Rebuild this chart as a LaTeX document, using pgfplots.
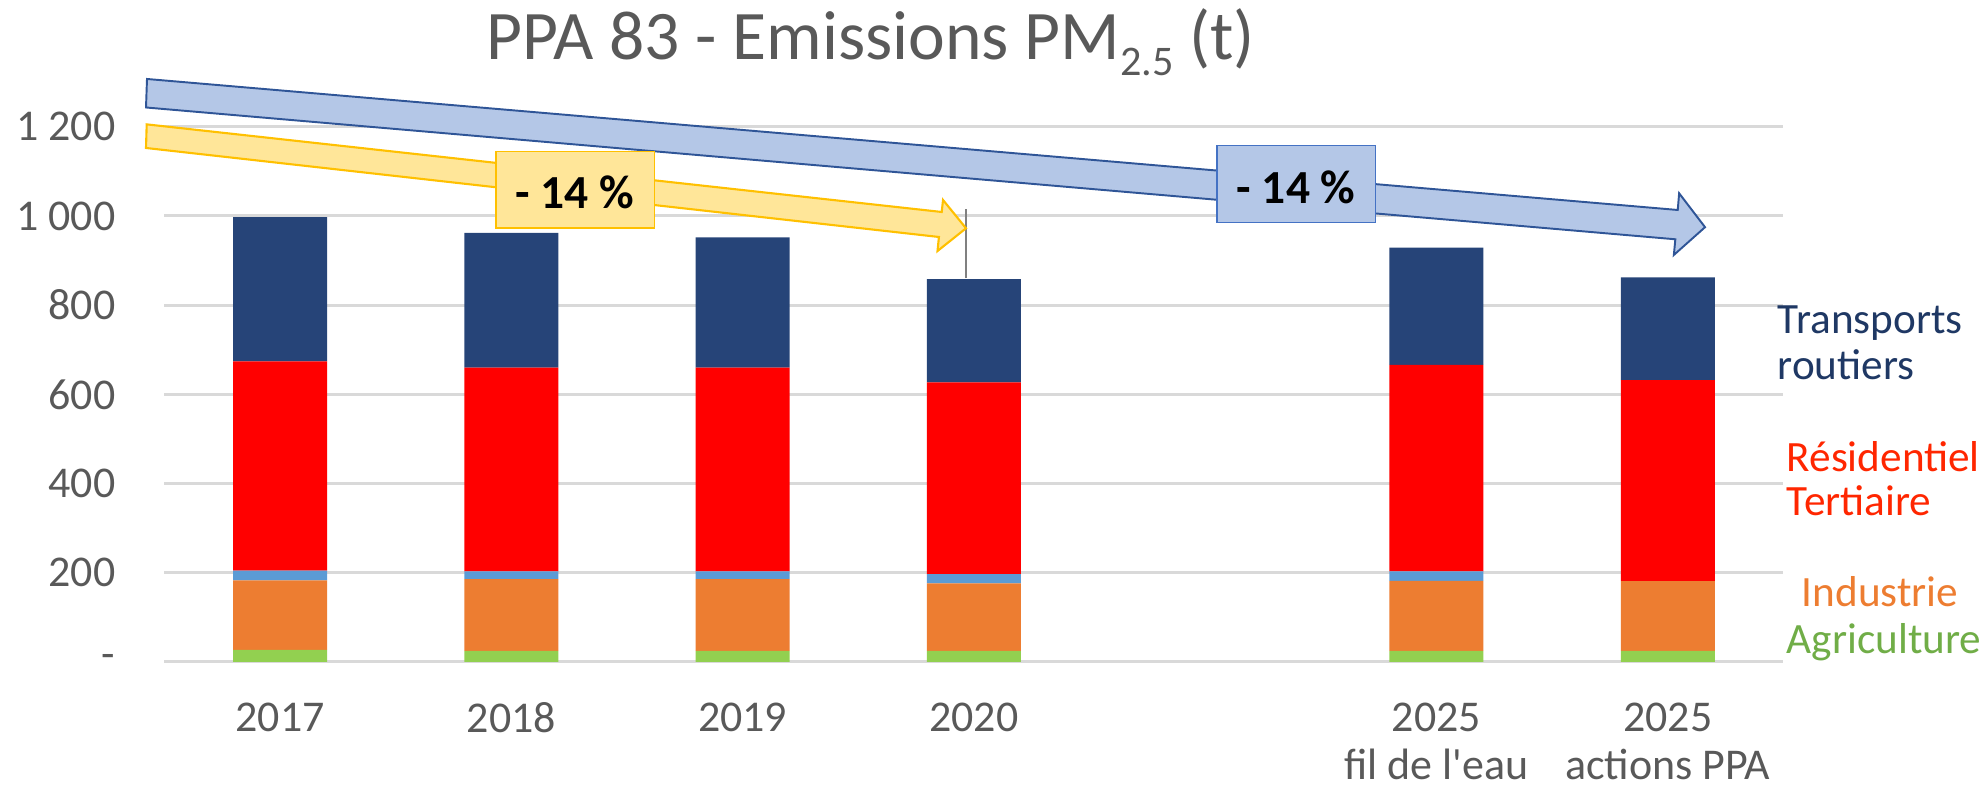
\documentclass[border=0pt]{standalone}
\usepackage{fontspec}
\setmainfont{Carlito}
\usepackage{pgfplots}
\pgfplotsset{compat=1.18}
\definecolor{cNavy}{HTML}{264478}
\definecolor{cRed}{HTML}{FF0000}
\definecolor{cLBlue}{HTML}{5B9BD5}
\definecolor{cOrange}{HTML}{ED7D31}
\definecolor{cGreen}{HTML}{92D050}
\definecolor{cGrid}{HTML}{D9D9D9}
\definecolor{cTick}{HTML}{595959}
\definecolor{cTxtNavy}{HTML}{1F3864}
\definecolor{cTxtRed}{HTML}{FF2600}
\definecolor{cTxtGreen}{HTML}{70AD47}
\definecolor{cYelFill}{HTML}{FFE699}
\definecolor{cYelLine}{HTML}{FFC000}
\definecolor{cBluFill}{HTML}{B4C7E7}
\definecolor{cBluLine}{HTML}{2F5597}
\definecolor{cBoxLine}{HTML}{4472C4}
\begin{document}
\begin{tikzpicture}
\path[use as bounding box] (0,0) rectangle (198.7mm,79.2mm);
\begin{axis}[
  at={(16.44mm,13.0mm)}, anchor=south west,
  scale only axis, width=161.9mm, height=53.53mm,
  xmin=-0.5, xmax=6.5, ymin=0, ymax=1200,
  ybar stacked, bar width=9.4mm,
  axis line style={draw=none},
  major tick style={draw=none},
  ymajorgrids, grid style={color=cGrid, line width=0.85pt},
  ytick={0,200,400,600,800,1000,1200},
  yticklabels={-,200,400,600,800,1 000,1 200},
  xtick={0,1,2,3,5,6},
  xticklabels={2017,2018,2019,2020,{2025\\fil de l\textquotesingle eau},{2025\\actions PPA}},
  tick label style={font=\fontsize{12.5}{13.7}\selectfont, text=cTick},
  yticklabel style={anchor=east, xshift=-3.67mm},
  xticklabel style={anchor=north, align=center, yshift=-2.83mm},
  clip=false,
]
\addplot[fill=cGreen, draw=none] coordinates {(0,27) (1,25) (2,25) (3,25) (5,25) (6,25)};
\addplot[fill=cOrange, draw=none] coordinates {(0,156) (1,161) (2,161) (3,151) (5,157) (6,156)};
\addplot[fill=cLBlue, draw=none] coordinates {(0,22) (1,17) (2,17) (3,21) (5,21) (6,0)};
\addplot[fill=cRed, draw=none] coordinates {(0,469) (1,457) (2,457) (3,430) (5,463) (6,451)};
\addplot[fill=cNavy, draw=none] coordinates {(0,323) (1,302) (2,292) (3,231) (5,263) (6,230)};
\end{axis}
\begin{scope}[shift={(0mm,79.2mm)}, x=0.1mm, y=-0.1mm]
  % thin vertical line at 2020
  \draw[color=gray, line width=0.45pt] (966,278.4) -- (966,209.2);
  % blue arrow
  \draw[fill=cBluFill, draw=cBluLine, line width=0.55pt, line join=miter]
    (147,79) -- (1677.7,210) -- (1679.1,193.3) -- (1705,227.2) -- (1673.8,255) -- (1675.3,239.3) -- (146,107.5) -- cycle;
  % yellow arrow
  \draw[fill=cYelFill, draw=cYelLine, line width=0.6pt, line join=miter]
    (146.7,124.4) -- (941.7,212) -- (943,200) -- (966,228.3) -- (937.5,251) -- (938.9,237) -- (146,148) -- cycle;
  % boxes
  \draw[fill=cYelFill, draw=cYelLine, line width=0.45pt] (496,151.7) rectangle (654.3,228.3);
  \node[anchor=base, inner sep=0, font=\fontsize{13.5}{14}\selectfont\bfseries] at (575,209) {- 14 \%};
  \draw[fill=cBluFill, draw=cBoxLine, line width=0.4pt] (1216.8,145.7) rectangle (1375.4,222.3);
  \node[anchor=base, inner sep=0, font=\fontsize{13.5}{14}\selectfont\bfseries] at (1296,204) {- 14 \%};
  % title
  \node[anchor=base west, inner sep=0, text=cTick, font=\fontsize{19.8}{20}\selectfont] at (486,59.3)
    {PPA 83 - Emissions PM\raisebox{-1.6mm}{\fontsize{12}{12}\selectfont 2.5} (t)};
  % series labels
  \begin{scope}[every node/.style={anchor=base west, inner sep=0, font=\fontsize{12.3}{13}\selectfont}]
    \node[text=cTxtNavy] at (1777,334) {Transports};
    \node[text=cTxtNavy] at (1777,380) {routiers};
    \node[text=cTxtRed] at (1786,471.6) {Résidentiel};
    \node[text=cTxtRed] at (1786,516) {Tertiaire};
    \node[text=cOrange] at (1801,607) {Industrie};
    \node[text=cTxtGreen] at (1786,654) {Agriculture};
  \end{scope}
\end{scope}
\end{tikzpicture}
\end{document}
